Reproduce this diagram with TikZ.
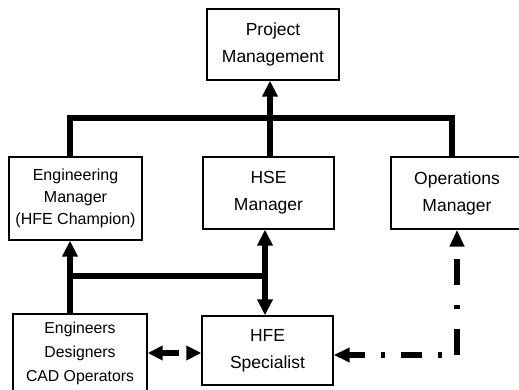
\documentclass[tikz,border=0pt]{standalone}
\usepackage{fontspec}
\setmainfont{Liberation Sans}
\usetikzlibrary{arrows.meta}
\begin{document}
\begin{tikzpicture}[x=1pt,y=-1pt,
  box/.style={draw,line width=1.4pt,inner sep=0pt,align=center,
    font=\fontsize{17.5}{27}\selectfont},
  thk/.style={line width=5.5pt,line join=miter},
  tipend/.style={-{Triangle[length=16pt,width=15pt]}},
  tipboth/.style={{Triangle[length=16pt,width=15pt]}-{Triangle[length=16pt,width=15pt]}},
  dashboth/.style={line width=5.5pt,dash pattern=on 17pt off 20pt,
    {Triangle[length=15pt,width=14pt]}-{Triangle[length=15pt,width=14pt]}},
  ddup/.style={line width=6pt,dash pattern=on 26pt off 20pt on 4pt off 20pt,
    -{Triangle[length=17pt,width=14pt]}},
  ddleft/.style={line width=6pt,dash pattern=on 4pt off 16pt on 21pt off 16pt,
    dash phase=42pt,-{Triangle[length=16pt,width=14pt]}}]
\useasboundingbox (0,0) rectangle (519,390);
\fill[white] (0,0) rectangle (519,390);

\node[box,minimum width=132pt,minimum height=71pt] (pm) at (273,44.5) {Project\\Management};
\node[box,minimum width=133pt,minimum height=83pt,font=\fontsize{16}{22}\selectfont] (em) at (75.5,198.5) {Engineering\\Manager\\(HFE Champion)};
\node[box,minimum width=131pt,minimum height=72pt] (hse) at (268.5,193) {HSE\\Manager};
\node[box,minimum width=132pt,minimum height=72pt] (ops) at (457,193) {Operations\\Manager};
\node[box,minimum width=134pt,minimum height=78pt,font=\fontsize{15.8}{24}\selectfont] (eng) at (80,353) {Engineers\\Designers\\CAD Operators};
\node[box,minimum width=131pt,minimum height=69pt] (hfe) at (267.5,350.5) {HFE\\Specialist};

\coordinate (bl) at (70,118);
\coordinate (bm) at (270,118);
\coordinate (br) at (452,118);
\coordinate (cl) at (70,276);
\coordinate (cr) at (265,276);
\coordinate (dm) at (148,353);
\coordinate (corner) at (457,355);

% top bus
\draw[thk] (em.north -| bl) -- (bl) -- (br) -- (ops.north -| br);
\draw[thk] (hse.north -| bm) -- (bm);
\draw[thk,tipend] (bm) -- (pm.south -| bm);

% lower connections
\draw[thk,tipend] (eng.north -| cl) -- (em.south -| cl);
\draw[thk] (cl) -- (cr);
\draw[thk,tipboth] (hse.south -| cr) -- (hfe.north -| cr);

% dashed double arrow
\draw[dashboth] (eng.east |- dm) -- (hfe.west |- dm);

% dash-dot connector
\draw[ddup] (corner) -- (ops.south -| corner);
\draw[ddleft] (corner) -- (hfe.east |- corner);
\end{tikzpicture}
\end{document}
